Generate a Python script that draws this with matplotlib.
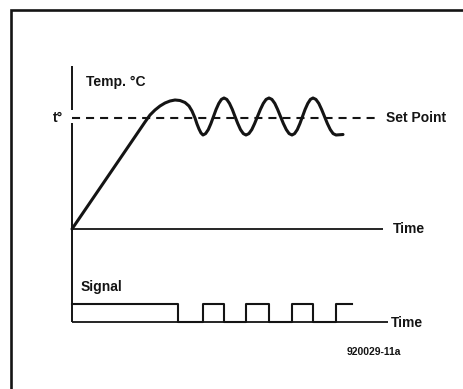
import matplotlib
matplotlib.use("Agg")
import matplotlib.pyplot as plt

plt.rcParams["lines.scale_dashes"] = False
plt.rcParams["font.family"] = ["Liberation Sans", "DejaVu Sans"]

# Temperature response: time vs. temperature (arbitrary units, 0 = start)
temp_t = [0, 63, 73, 78, 83, 88, 93, 98, 103, 108, 113, 117, 120, 123,
          125, 127, 129, 131,
          133.6, 136.3, 138.9, 141.5, 144.1, 146.8, 149.4, 152,
          154.8, 157.5, 160.3, 163, 165.8, 168.5, 171.3, 174,
          176.9, 179.8, 182.6, 185.5, 188.4, 191.3, 194.1, 197,
          199.9, 202.8, 205.6, 208.5, 211.4, 214.3, 217.1, 220,
          222.6, 225.3, 227.9, 230.5, 233.1, 235.8, 238.4, 241,
          243.9, 246.8, 249.6, 252.5, 255.4, 258.3, 261.1, 264, 271]
temp_v = [0, 92.3, 107, 114, 119, 123, 126, 128, 129, 128.5, 126.5, 123,
          118, 111, 105, 100, 96, 94,
          95.4, 99.4, 105.4, 112.5, 119.6, 125.6, 129.6, 131,
          129.6, 125.6, 119.6, 112.5, 105.4, 99.4, 95.4, 94,
          95.4, 99.4, 105.4, 112.5, 119.6, 125.6, 129.6, 131,
          129.6, 125.6, 119.6, 112.5, 105.4, 99.4, 95.4, 94,
          95.4, 99.4, 105.4, 112.5, 119.6, 125.6, 129.6, 131,
          129.6, 125.6, 119.6, 112.5, 105.4, 99.4, 95.4, 94, 94.5]
set_point = 111
time_axis_end = 311
set_point_end = 306

# Heater control signal: switching instants and on/off state
signal_t = [0, 106, 131, 152, 174, 197, 220, 241, 264, 280]
signal_state = [1, 0, 1, 0, 1, 0, 1, 0, 1, 1]
signal_low = -93
signal_high = -75
signal_axis_end = 316

fig = plt.figure(figsize=(4.63, 3.89), dpi=100)
ax = fig.add_axes([0, 0, 1, 1])
ax.set_xlim(-72, 391)
ax.set_ylim(-160, 229)
ax.axis("off")

ink = "#141414"

# outer frame (left and top edges)
ax.plot([-61, -61, 395], [-165, 219.5, 219.5], color=ink, lw=1.9,
        solid_joinstyle="miter", solid_capstyle="butt")

# vertical axis, broken where the set-point line meets it
ax.plot([0, 0], [163, 119], color=ink, lw=1.4, solid_capstyle="butt")
ax.plot([0, 0], [106, signal_low], color=ink, lw=1.4, solid_capstyle="butt")

# time axes
ax.plot([0, time_axis_end], [0, 0], color=ink, lw=1.3, solid_capstyle="butt")
ax.plot([0, signal_axis_end], [signal_low, signal_low], color=ink, lw=1.3,
        solid_capstyle="butt")

# set point
ax.plot([0, set_point_end], [set_point, set_point], color=ink, lw=1.5,
        dashes=(5.8, 4.3))

# temperature curve
ax.plot(temp_t, temp_v, color=ink, lw=2.2, solid_joinstyle="round",
        solid_capstyle="round")

# control signal
sig_y = [signal_low + (signal_high - signal_low) * s for s in signal_state]
ax.step(signal_t, sig_y, where="post", color=ink, lw=1.5,
        solid_joinstyle="round")

fs = 10
bold = dict(fontweight="bold", color=ink)
ax.text(14, 147, "Temp. °C", fontsize=fs, ha="left", va="center", **bold)
ax.text(-9, set_point, "t°", fontsize=fs, ha="right", va="center", **bold)
ax.text(314, set_point, "Set Point", fontsize=fs, ha="left", va="center", **bold)
ax.text(321, 0, "Time", fontsize=fs, ha="left", va="center", **bold)
ax.text(9, -58, "Signal", fontsize=fs, ha="left", va="center", **bold)
ax.text(319, -94, "Time", fontsize=fs, ha="left", va="center", **bold)
ax.text(275, -123, "920029-11a", fontsize=7.5, ha="left", va="center", **bold)

fig.savefig("out.png", dpi=100)
